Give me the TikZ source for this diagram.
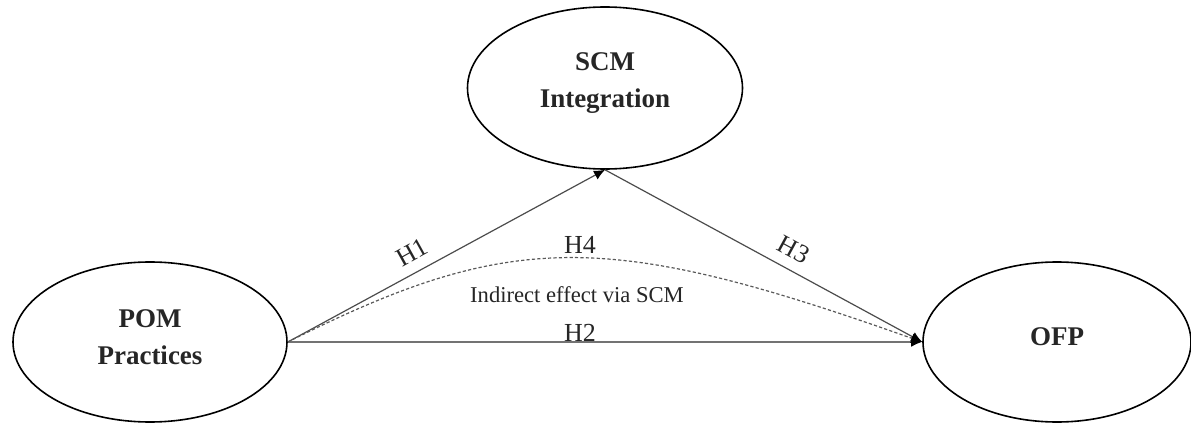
\documentclass[tikz,border=0pt]{standalone}
\usepackage{fontspec}
\setmainfont{Liberation Serif}
\usetikzlibrary{shapes.geometric,arrows.meta}
\begin{document}
\begin{tikzpicture}[x=0.5pt,y=-0.5pt,
  construct/.style={draw=black,line width=0.8pt,ellipse,inner sep=0pt},
  constructtext/.style={align=center,yshift=2.5pt,inner sep=0pt,
    font=\fontsize{13.5}{18.5}\selectfont\bfseries,text=black!85},
  tip/.style={-{Latex[length=5.5pt,width=5pt,color=black]}},
  path1/.style={draw=black!70,line width=0.6pt,tip},
  path2/.style={draw=black!55,line width=1.1pt,tip},
  indirect/.style={draw=black!65,line width=0.6pt,dash pattern=on 1.6pt off 1.1pt,tip},
  hlabel/.style={font=\fontsize{13}{15}\selectfont,text=black!85,inner sep=0pt},
  smalllabel/.style={font=\fontsize{11.3}{13}\selectfont,text=black!85,inner sep=0pt}]
\useasboundingbox (0,0) rectangle (1191,423);
\node[construct,minimum width=137pt,minimum height=80pt,
  label={[constructtext]center:POM\\Practices}] (pom) at (150,342) {};
\node[construct,minimum width=137.5pt,minimum height=81pt,
  label={[constructtext]center:SCM\\Integration}] (scm) at (605,88) {};
\node[construct,minimum width=134pt,minimum height=80pt,
  label={[constructtext]center:OFP}] (ofp) at (1057,342) {};
\draw[path1] (pom.east) -- (scm.south);
\draw[path1] (scm.south) -- (ofp.west);
\draw[path2] (pom.east) -- (ofp.west);
\draw[indirect] (pom.east) .. controls (511,230) and (607,230) .. (ofp.west);
\node[hlabel,rotate=29] (h1) at (412,252) {H1};
\node[hlabel,rotate=-28.5] (h3) at (794,250) {H3};
\node[hlabel] (h4) at (580,245) {H4};
\node[hlabel] (h2) at (580,333) {H2};
\node[smalllabel] (ind) at (577,295) {Indirect effect via SCM};
\end{tikzpicture}
\end{document}
